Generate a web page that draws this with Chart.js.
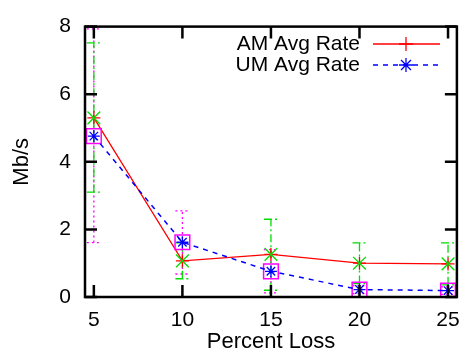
<!DOCTYPE html>
<html>
<head>
<meta charset="utf-8">
<script src="https://cdn.jsdelivr.net/npm/chart.js@4/dist/chart.umd.min.js"></script>
<style>
  html, body { margin: 0; padding: 0; background: #fff; }
  #wrap { width: 471px; height: 364px; }
</style>
</head>
<body>
<div id="wrap"><canvas id="chart" width="471" height="364"></canvas></div>
<script>
// data
const percentLoss = [5, 10, 15, 20, 25];
const amRate = [5.3, 1.07, 1.26, 1.0, 0.98];
const umRate = [4.76, 1.62, 0.76, 0.22, 0.19];
const amLow = [3.1, 0.54, 0.2, 0.4, 0.36];
const amHigh = [7.52, 1.6, 2.3, 1.6, 1.6];
const umLow = [1.61, 0.68, 0.12, 0.1, 0.08];
const umHigh = [7.93, 2.55, 1.4, 0.34, 0.3];
const xTicks = [5, 10, 15, 20, 25];
const yTicks = [0, 2, 4, 6, 8];

const FONT = "'Liberation Sans', Arial, sans-serif";

// vertical error bars with caps, drawn under the markers
const errorBars = {
    id: 'errorBars',
    beforeDatasetsDraw(chart) {
        const { ctx, scales: { x, y } } = chart;
        const sets = [
            { low: umLow, high: umHigh, color: '#ff00ff', dash: [2, 3] },
            { low: amLow, high: amHigh, color: '#00dd00', dash: [8, 3, 2, 3] }
        ];
        ctx.save();
        ctx.lineWidth = 1.3;
        sets.forEach(s => {
            ctx.strokeStyle = s.color;
            ctx.setLineDash(s.dash);
            percentLoss.forEach((v, i) => {
                const px = x.getPixelForValue(v);
                const lo = y.getPixelForValue(s.low[i]);
                const hi = y.getPixelForValue(s.high[i]);
                ctx.beginPath();
                ctx.moveTo(px, lo); ctx.lineTo(px, hi);
                ctx.moveTo(px - 7, lo); ctx.lineTo(px + 7, lo);
                ctx.moveTo(px - 7, hi); ctx.lineTo(px + 7, hi);
                ctx.stroke();
            });
        });
        ctx.restore();
    }
};

// gnuplot style frame with inward ticks on all sides, plus the key
const frame = {
    id: 'frame',
    afterDraw(chart) {
        const { ctx, chartArea: a, scales: { x, y } } = chart;
        ctx.save();
        ctx.strokeStyle = '#000';
        ctx.lineWidth = 2.5;
        ctx.setLineDash([]);
        ctx.strokeRect(a.left, a.top, a.right - a.left, a.bottom - a.top);
        ctx.beginPath();
        xTicks.forEach(v => {
            const px = x.getPixelForValue(v);
            ctx.moveTo(px, a.bottom); ctx.lineTo(px, a.bottom - 12);
            ctx.moveTo(px, a.top); ctx.lineTo(px, a.top + 12);
        });
        yTicks.forEach(v => {
            const py = y.getPixelForValue(v);
            ctx.moveTo(a.left, py); ctx.lineTo(a.left + 12, py);
            ctx.moveTo(a.right, py); ctx.lineTo(a.right - 12, py);
        });
        ctx.stroke();

        // key
        ctx.font = '21px ' + FONT;
        ctx.fillStyle = '#000';
        ctx.textAlign = 'right';
        ctx.textBaseline = 'middle';
        const rows = [0, 1].map(i => chart.data.datasets[i]);
        rows.forEach((ds, i) => {
            const ty = 44 + i * 21;
            ctx.fillText(ds.label, 360, ty);
            ctx.strokeStyle = ds.borderColor;
            ctx.lineWidth = 1.3;
            ctx.setLineDash(ds.borderDash || []);
            ctx.beginPath();
            ctx.moveTo(373, ty); ctx.lineTo(440, ty);
            ctx.stroke();
            ctx.setLineDash([]);
            Chart.helpers.drawPoint(ctx, { pointStyle: ds.pointStyle, radius: 7, borderWidth: 1.5 }, 406, ty);
        });
        ctx.restore();
    }
};

new Chart(document.getElementById('chart'), {
    type: 'line',
    data: {
        datasets: [
            {
                label: 'AM Avg Rate',
                data: percentLoss.map((v, i) => ({ x: v, y: amRate[i] })),
                borderColor: '#ff0000', borderWidth: 1.3,
                pointStyle: 'cross', pointRadius: 6.5, pointBorderWidth: 1.3,
                pointBorderColor: '#ff0000', order: 3
            },
            {
                label: 'UM Avg Rate',
                data: percentLoss.map((v, i) => ({ x: v, y: umRate[i] })),
                borderColor: '#0000ff', borderWidth: 1.5, borderDash: [5, 5],
                pointStyle: 'star', pointRadius: 6, pointBorderWidth: 1.3,
                pointBorderColor: '#0000ff', order: 0
            },
            {
                label: 'AM err',
                data: percentLoss.map((v, i) => ({ x: v, y: amRate[i] })),
                showLine: false,
                pointStyle: 'crossRot', pointRadius: 9, pointBorderWidth: 1.3,
                pointBorderColor: '#00dd00', order: 2
            },
            {
                label: 'UM err',
                data: percentLoss.map((v, i) => ({ x: v, y: umRate[i] })),
                showLine: false,
                pointStyle: 'rect', pointRadius: 10.4, pointBorderWidth: 1.5,
                pointBorderColor: '#ff00ff', pointBackgroundColor: 'rgba(0,0,0,0)', order: 1
            }
        ]
    },
    plugins: [errorBars, frame],
    options: {
        responsive: false,
        animation: false,
        devicePixelRatio: 1,
        layout: { padding: { top: 18, right: 6, left: 0, bottom: 0 } },
        plugins: { legend: { display: false }, tooltip: { enabled: false } },
        elements: { line: { tension: 0, fill: false } },
        scales: {
            x: {
                type: 'linear', min: 4.5, max: 25.5,
                afterBuildTicks: s => { s.ticks = xTicks.map(v => ({ value: v })); },
                afterFit: s => { s.height = 67; },
                grid: { display: false, drawTicks: false },
                border: { display: false },
                ticks: { color: '#000', font: { family: FONT, size: 21 }, padding: 11, maxRotation: 0 },
                title: { display: true, text: 'Percent Loss', color: '#000', font: { family: FONT, size: 22 }, padding: { top: 0, bottom: 9 } }
            },
            y: {
                min: 0, max: 8,
                afterBuildTicks: s => { s.ticks = yTicks.map(v => ({ value: v })); },
                afterFit: s => { s.width = 85; },
                grid: { display: false, drawTicks: false },
                border: { display: false },
                ticks: { color: '#000', font: { family: FONT, size: 21 }, padding: 14 },
                title: { display: true, text: 'Mb/s', color: '#000', font: { family: FONT, size: 22 }, padding: { top: 9, bottom: 0 } }
            }
        }
    }
});
</script>
</body>
</html>
